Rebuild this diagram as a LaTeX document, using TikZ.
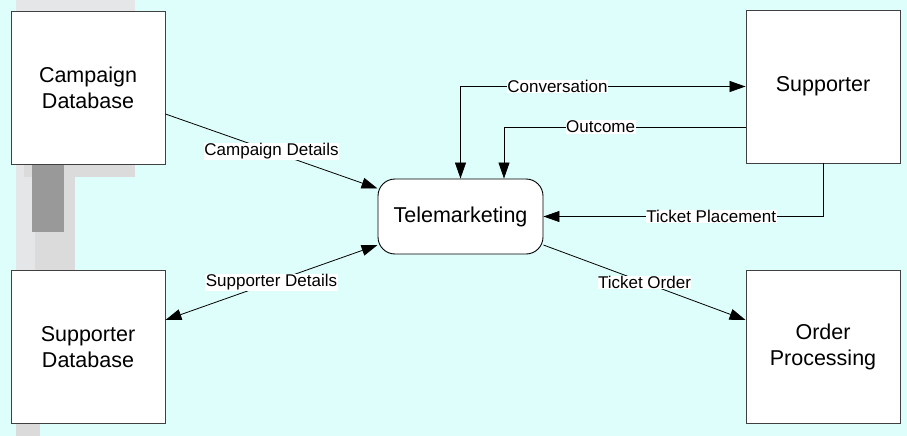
\documentclass[tikz,border=0pt]{standalone}
\usepackage{xcolor}
\usepackage{fontspec}
\setmainfont{Liberation Sans}
\usetikzlibrary{positioning,arrows.meta}
\definecolor{paper}{RGB}{221,254,250}
\definecolor{edgegrey}{RGB}{64,64,64}

\begin{document}
\begin{tikzpicture}[x=1pt, y=-1pt,
          entity/.style = {shape=rectangle, draw=edgegrey, line width=0.9pt,
            fill=white, align=center, minimum width=154pt, minimum height=153pt,
            font=\fontsize{21.5}{26}\selectfont},
          process/.style = {shape=rectangle, rounded corners=17pt, draw=black,
            line width=0.9pt, fill=white, align=center,
            minimum width=165pt, minimum height=75pt,
            font=\fontsize{21.5}{26}\selectfont},
          flow/.style = {draw=black, line width=0.8pt,
            -{Triangle[length=16pt,width=11pt]}},
          tag/.style = {fill=white, inner sep=0.5pt,
            font=\fontsize{17}{20}\selectfont}]
          % page and the grey marks on the left
          \useasboundingbox (0,0) rectangle (907,436);
          \fill[paper] (0,0) rectangle (907,436);
          \fill[cyan!10!black!12] (16,0) rectangle (135,11);
          \fill[cyan!10!black!12] (16,164) rectangle (35,270);
          \fill[black!14] (24,164) rectangle (135,177);
          \fill[black!14] (35,177) rectangle (75,270);
          \fill[black!40] (32,164) rectangle (64,232);
          \fill[black!14] (16,424) rectangle (40,436);

          % entities
          \node[entity] (campaign) at (88,87.5) {Campaign\\Database};
          \node[entity] (suppdb) at (88,347) {Supporter\\Database};
          \node[entity] (supporter) at (823,86.5) {Supporter};
          \node[entity] (order) at (823,347) {Order\\Processing};
          \node[process] (tele) at (460.5,216.5) {Telemarketing};

          % flows
          \draw[flow] ([yshift=-26.5pt]campaign.east) -- ([yshift=28pt]tele.west)
            node[tag, pos=0.5] {Campaign Details};
          \draw[flow, {Triangle[length=16pt,width=11pt]}-{Triangle[length=16pt,width=11pt]}]
            ([yshift=-28.5pt]tele.west) -- ([yshift=27pt]suppdb.east)
            node[tag, pos=0.5] {Supporter Details};
          \draw[flow, {Triangle[length=16pt,width=11pt]}-{Triangle[length=16pt,width=11pt]}]
            (tele.north) |- (supporter.west)
            node[tag, pos=0.67] {Conversation};
          \draw[flow] ([yshift=-40.5pt]supporter.west) -| ([xshift=43.5pt]tele.north)
            node[tag, pos=0.3] {Outcome};
          \draw[flow] (supporter.south) |- (tele.east)
            node[tag, pos=0.7] {Ticket Placement};
          \draw[flow] ([yshift=-28.5pt]tele.east) -- ([yshift=27pt]order.west)
            node[tag, pos=0.5] {Ticket Order};
\end{tikzpicture}
\end{document}
